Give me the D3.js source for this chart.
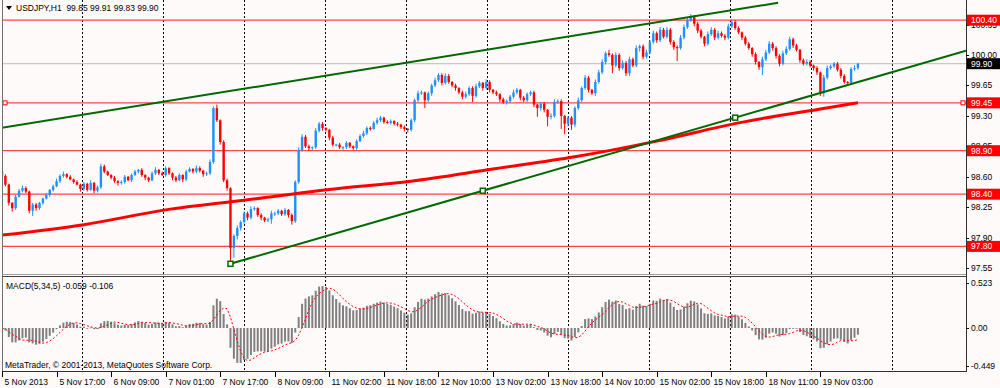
<!DOCTYPE html>
<html>
<head>
<meta charset="utf-8">
<script src="https://cdn.jsdelivr.net/npm/d3@7"></script>
<style>
  html, body { margin: 0; padding: 0; background: #fffafa; }
  svg { display: block; }
  text { font-family: "Liberation Sans", Arial, sans-serif; font-size: 8.5px; fill: #000; }
</style>
</head>
<body>
<div id="chart"></div>
<script>
// --- data ---
const symbolTitle = 'USDJPY,H1';
const lastBar = [99.85, 99.91, 99.83, 99.90];
const firstOpen = 98.66;
const closes = [
  98.61, 98.51, 98.30, 98.24, 98.37, 98.44, 98.47, 98.43, 98.21, 98.28, 98.24, 98.30,
  98.35, 98.39, 98.45, 98.49, 98.55, 98.61, 98.63, 98.60, 98.57, 98.54, 98.51, 98.46,
  98.52, 98.45, 98.53, 98.44, 98.48, 98.72, 98.66, 98.62, 98.59, 98.55, 98.53, 98.54,
  98.60, 98.56, 98.62, 98.66, 98.68, 98.62, 98.59, 98.56, 98.64, 98.68, 98.64, 98.62,
  98.70, 98.64, 98.59, 98.56, 98.62, 98.57, 98.66, 98.69, 98.66, 98.70, 98.67, 98.63,
  98.64, 98.77, 99.39, 99.25, 99.00, 98.56, 98.47, 97.78, 97.92, 98.01, 98.08, 98.18,
  98.13, 98.23, 98.24, 98.16, 98.13, 98.10, 98.11, 98.18, 98.18, 98.21, 98.17, 98.22,
  98.16, 98.09, 98.54, 98.91, 99.06, 98.95, 98.93, 98.94, 99.13, 99.21, 99.16, 99.14,
  99.05, 98.97, 98.97, 98.94, 98.94, 98.99, 98.95, 98.93, 99.01, 99.07, 99.10, 99.16,
  99.15, 99.22, 99.25, 99.28, 99.23, 99.22, 99.24, 99.21, 99.20, 99.17, 99.15, 99.14,
  99.25, 99.48, 99.56, 99.57, 99.48, 99.56, 99.65, 99.71, 99.77, 99.68, 99.76, 99.69,
  99.65, 99.62, 99.57, 99.52, 99.55, 99.62, 99.53, 99.64, 99.68, 99.62, 99.69, 99.60,
  99.57, 99.55, 99.49, 99.46, 99.47, 99.52, 99.57, 99.60, 99.51, 99.48, 99.55, 99.57,
  99.43, 99.39, 99.44, 99.37, 99.29, 99.30, 99.46, 99.47, 99.30, 99.21, 99.28, 99.20,
  99.39, 99.48, 99.62, 99.74, 99.60, 99.56, 99.69, 99.80, 99.92, 100.02, 100.00, 99.88,
  100.00, 99.85, 99.91, 99.79, 99.95, 99.88, 100.08, 100.10, 99.98, 100.03, 100.15, 100.25,
  100.17, 100.29, 100.21, 100.29, 100.15, 100.09, 100.08, 100.20, 100.32, 100.40, 100.44, 100.36,
  100.28, 100.21, 100.13, 100.24, 100.29, 100.20, 100.25, 100.22, 100.20, 100.33, 100.38, 100.31,
  100.26, 100.20, 100.13, 100.08, 100.01, 99.92, 99.86, 99.95, 100.03, 100.13, 100.08, 99.99,
  99.90, 100.02, 100.07, 100.18, 100.11, 100.06, 99.94, 99.90, 99.92, 99.88, 99.85, 99.80,
  99.56, 99.74, 99.85, 99.87, 99.90, 99.83, 99.76, 99.69, 99.68, 99.84, 99.85, 99.90
];
// wick lengths above / below the body, in pips
const upWicks = [
  3,2,1,1,2,2,3,2,1,2,2,1, 1,2,1,2,3,2,3,1,2,1,2,1, 2,1,3,1,2,3,2,1,1,2,1,2,
  2,1,2,2,1,2,1,1,2,3,1,2, 2,1,1,2,2,1,2,2,1,3,2,1, 2,3,2,4,1,2,2,1,2,3,2,2,
  2,3,2,1,2,1,2,3,2,2,1,2, 1,2,2,3,3,2,2,1,3,2,2,1, 1,2,1,2,1,2,1,1,2,2,3,2,
  2,2,3,2,1,2,2,1,2,1,2,1, 2,2,3,2,1,2,2,3,2,2,3,2, 1,2,1,2,3,2,2,3,2,1,3,2,
  1,2,1,2,2,2,3,2,1,2,2,2, 2,1,2,2,1,3,3,2,2,1,2,2, 2,3,2,3,2,1,3,3,3,2,4,2,
  3,2,3,2,3,2,3,2,2,3,2,3, 2,3,2,3,2,2,2,3,3,3,3,2, 2,2,1,3,3,2,3,2,2,3,3,2,
  2,1,2,2,1,2,1,3,3,3,2,2, 2,3,3,3,2,2,1,2,3,2,1,2, 1,3,3,2,2,2,2,2,1,2,3,1
];
const downWicks = [
  2,2,3,4,2,1,2,2,3,6,3,2, 2,1,2,2,1,2,2,2,1,2,1,3, 2,2,1,3,2,2,2,1,2,2,3,2,
  2,1,2,1,2,2,3,2,1,2,2,1, 2,2,3,2,1,3,2,1,2,2,2,3, 2,2,2,2,3,2,3,18,11,4,3,2,
  3,2,2,2,3,2,2,5,3,2,2,2, 3,4,2,2,2,2,3,2,2,2,3,2, 3,2,2,2,3,2,2,2,2,1,2,2,
  2,1,2,2,2,1,2,2,2,2,3,3, 2,2,2,2,9,2,3,2,2,3,2,2, 2,3,2,3,2,2,7,2,2,3,2,3,
  2,2,3,2,3,2,2,2,3,2,2,2, 3,10,3,3,11,3,2,2,15,12,3,6, 3,2,2,2,3,2,3,2,2,3,2,9,
  2,3,2,3,3,2,2,4,3,2,2,2, 3,2,2,2,3,3,15,2,2,2,2,3, 3,2,3,2,2,3,2,2,3,2,2,2,
  2,3,2,2,3,3,3,9,2,2,3,3, 3,2,2,2,3,2,3,2,2,2,3,3, 3,4,2,2,2,2,3,2,2,2,2,2
];
const timeLabels = ['5 Nov 2013', '5 Nov 17:00', '6 Nov 09:00', '7 Nov 01:00', '7 Nov 17:00',
  '8 Nov 09:00', '11 Nov 02:00', '11 Nov 18:00', '12 Nov 10:00', '13 Nov 02:00', '13 Nov 18:00',
  '14 Nov 10:00', '15 Nov 02:00', '15 Nov 18:00', '18 Nov 11:00', '19 Nov 03:00'];
const barsPerLabel = 16;
const priceTicks = [97.55, 97.90, 98.25, 98.60, 98.95, 99.30, 99.65, 100.00, 100.35];
const levels = [100.40, 99.45, 98.90, 98.40, 97.80];
const selectedLevel = 99.45;
const bidPrice = 99.90;
const maBars = [0, 24, 48, 72, 96, 120, 144, 168, 192, 216, 240, 251];
const maValues = [97.93, 98.05, 98.22, 98.335, 98.455, 98.55, 98.69, 98.83, 99.01, 99.22, 99.38, 99.45];
const upperTrend = [[-0.6, 99.16], [227.6, 100.60]];
const lowerTrend = [[67, 97.60], [215, 99.28]];
const lowerTrendMarks = [67, 141, 215];
const macdTicks = [0.523, 0.00, -0.449];
const macdTitle = 'MACD(5,34,5) -0.059 -0.106';
const copyright = 'MetaTrader, \u00a9 2001-2013, MetaQuotes Software Corp.';

class MetaTraderChart {
    constructor(containerId = 'chart') {
        this.width = 1000;
        this.height = 388;
        this.plotLeft = 2;
        this.plotRight = 966;
        this.mainBottom = 274;
        this.macdTop = 278;
        this.macdBottom = 371;
        this.barSpacing = 3.41;
        this.svg = d3.select('#' + containerId)
            .append('svg')
            .attr('width', this.width)
            .attr('height', this.height);
        this.buildBars();
        this.buildScales();
        this.render();
    }
    buildBars() {
        // an H1 bar opens where the previous one closed
        this.bars = closes.map((c, i) => {
            const o = i === 0 ? firstOpen : closes[i - 1];
            return {
                i, o, c,
                h: Math.max(o, c) + upWicks[i] / 100,
                l: Math.min(o, c) - downWicks[i] / 100
            };
        });
        const ema = (vals, p) => {
            const k = 2 / (p + 1);
            let prev = vals[0];
            return vals.map((v, i) => (prev = i === 0 ? v : prev + k * (v - prev)));
        };
        const fast = ema(closes, 5);
        const slow = ema(closes, 34);
        this.macd = fast.map((f, i) => f - slow[i]);
        this.signal = this.macd.map((_, i) => d3.mean(this.macd.slice(Math.max(0, i - 4), i + 1)));
    }
    buildScales() {
        const n = closes.length;
        this.x = d3.scaleLinear().domain([0, n - 1])
            .range([this.plotLeft, this.plotLeft + this.barSpacing * (n - 1)]);
        // price axis: 100.00 sits at y=55, 87 px per yen
        this.y = d3.scaleLinear().domain([100 - 219 / 87, 100 + 55 / 87]).range([this.mainBottom, 0]);
        this.ym = d3.scaleLinear().domain([-0.449, 0.523]).range([367.5, 282]);
    }
    render() {
        const svg = this.svg;
        svg.append('rect').attr('width', this.width).attr('height', this.height).attr('fill', '#fffafa');
        const defs = svg.append('defs');
        defs.append('clipPath').attr('id', 'clipMain').append('rect')
            .attr('x', this.plotLeft).attr('y', 0)
            .attr('width', this.plotRight - this.plotLeft).attr('height', this.mainBottom);
        defs.append('clipPath').attr('id', 'clipMacd').append('rect')
            .attr('x', this.plotLeft).attr('y', this.macdTop)
            .attr('width', this.plotRight - this.plotLeft).attr('height', this.macdBottom - this.macdTop);

        this.drawGrid();
        this.drawMain();
        this.drawMacd();
        this.drawFrame();
        this.drawPriceAxis();
        this.drawTimeAxis();
        this.drawTexts();
    }
    drawGrid() {
        const gridBars = d3.range(23.4, 280, 23.76).filter(b => this.x(b) < this.plotRight - 2);
        this.svg.append('g')
            .attr('stroke', '#000').attr('stroke-width', 1).attr('stroke-dasharray', '2,2')
            .selectAll('line').data(gridBars).join('line')
            .attr('x1', d => Math.round(this.x(d)) + 0.5).attr('x2', d => Math.round(this.x(d)) + 0.5)
            .attr('y1', 0).attr('y2', this.macdBottom);
    }
    drawMain() {
        const g = this.svg.append('g').attr('clip-path', 'url(#clipMain)');
        // bid line and horizontal levels
        g.append('line')
            .attr('x1', this.plotLeft).attr('x2', this.plotRight)
            .attr('y1', this.y(bidPrice)).attr('y2', this.y(bidPrice))
            .attr('stroke', '#c8c8c8').attr('stroke-width', 1.2);
        g.selectAll('.level').data(levels).join('line')
            .attr('class', 'level')
            .attr('x1', this.plotLeft).attr('x2', this.plotRight)
            .attr('y1', d => this.y(d)).attr('y2', d => this.y(d))
            .attr('stroke', '#ff4545').attr('stroke-width', 1.2);
        g.selectAll('.lvlmark').data([this.plotLeft + 3, this.plotRight - 3]).join('rect')
            .attr('class', 'lvlmark')
            .attr('x', d => d - 2).attr('y', this.y(selectedLevel) - 2)
            .attr('width', 4).attr('height', 4)
            .attr('fill', '#fffafa').attr('stroke', '#ff0000').attr('stroke-width', 1);

        // candles
        const bull = '#1e90ff', bear = '#ff0000';
        const candle = g.append('g').selectAll('g').data(this.bars).join('g');
        candle.append('line')
            .attr('x1', d => this.x(d.i)).attr('x2', d => this.x(d.i))
            .attr('y1', d => this.y(d.h)).attr('y2', d => this.y(d.l))
            .attr('stroke', d => d.c >= d.o ? bull : bear).attr('stroke-width', 1);
        candle.append('rect')
            .attr('x', d => this.x(d.i) - 1.2).attr('width', 2.4)
            .attr('y', d => this.y(Math.max(d.o, d.c)))
            .attr('height', d => Math.max(1, this.y(Math.min(d.o, d.c)) - this.y(Math.max(d.o, d.c))))
            .attr('fill', d => d.c >= d.o ? bull : bear);

        // moving average
        const ma = maBars.map((b, k) => [b, maValues[k]]);
        g.append('path')
            .attr('d', d3.line().x(d => this.x(d[0])).y(d => this.y(d[1])).curve(d3.curveMonotoneX)(ma))
            .attr('fill', 'none').attr('stroke', '#ff0000').attr('stroke-width', 3);

        // trend lines
        const green = '#006800';
        const lineAt = (t, b) => t[0][1] + (t[1][1] - t[0][1]) * (b - t[0][0]) / (t[1][0] - t[0][0]);
        g.append('line')
            .attr('x1', this.x(upperTrend[0][0])).attr('y1', this.y(upperTrend[0][1]))
            .attr('x2', this.x(upperTrend[1][0])).attr('y2', this.y(upperTrend[1][1]))
            .attr('stroke', green).attr('stroke-width', 2);
        const endBar = this.x.invert(this.plotRight);
        g.append('line')
            .attr('x1', this.x(lowerTrend[0][0])).attr('y1', this.y(lowerTrend[0][1]))
            .attr('x2', this.x(endBar)).attr('y2', this.y(lineAt(lowerTrend, endBar)))
            .attr('stroke', green).attr('stroke-width', 2);
        g.selectAll('.tmark').data(lowerTrendMarks).join('rect')
            .attr('class', 'tmark')
            .attr('x', d => this.x(d) - 2.5).attr('y', d => this.y(lineAt(lowerTrend, d)) - 2.5)
            .attr('width', 5).attr('height', 5)
            .attr('fill', '#fffafa').attr('stroke', green).attr('stroke-width', 1.5);
    }
    drawMacd() {
        const g = this.svg.append('g').attr('clip-path', 'url(#clipMacd)');
        const zero = this.ym(0);
        g.selectAll('rect').data(this.macd).join('rect')
            .attr('x', (d, i) => this.x(i) - 1).attr('width', 2)
            .attr('y', d => Math.min(zero, this.ym(d)))
            .attr('height', d => Math.max(0.8, Math.abs(this.ym(d) - zero)))
            .attr('fill', '#808080');
        g.append('path')
            .attr('d', d3.line().x((d, i) => this.x(i)).y(d => this.ym(d))(this.signal))
            .attr('fill', 'none').attr('stroke', '#ff0000').attr('stroke-width', 1)
            .attr('stroke-dasharray', '2,2');
    }
    drawFrame() {
        const f = this.svg.append('g').attr('fill', 'none');
        f.append('line').attr('x1', 2.5).attr('x2', 2.5).attr('y1', 0).attr('y2', this.macdBottom)
            .attr('stroke', '#707070');
        f.append('line').attr('x1', this.plotRight + 0.5).attr('x2', this.plotRight + 0.5)
            .attr('y1', 0).attr('y2', this.macdBottom + 1).attr('stroke', '#303030');
        f.append('line').attr('x1', 2).attr('x2', this.plotRight).attr('y1', 274.5).attr('y2', 274.5)
            .attr('stroke', '#a0a0a0');
        f.append('line').attr('x1', 2).attr('x2', this.plotRight).attr('y1', 276.5).attr('y2', 276.5)
            .attr('stroke', '#404040');
        f.append('line').attr('x1', 2).attr('x2', this.plotRight).attr('y1', this.macdBottom + 0.5)
            .attr('y2', this.macdBottom + 0.5).attr('stroke', '#303030');
    }
    drawPriceAxis() {
        const ax = this.svg.append('g');
        const tx = this.plotRight + 5;
        ax.selectAll('.tick').data(priceTicks).join('g').attr('class', 'tick')
            .each((d, i, nodes) => {
                const t = d3.select(nodes[i]);
                t.append('line').attr('x1', this.plotRight).attr('x2', this.plotRight + 3)
                    .attr('y1', Math.round(this.y(d)) + 0.5).attr('y2', Math.round(this.y(d)) + 0.5)
                    .attr('stroke', '#000');
                t.append('text').attr('x', tx).attr('y', this.y(d)).attr('dy', '0.35em')
                    .text(d.toFixed(2));
            });
        const box = (v, color) => {
            const yy = this.y(v);
            ax.append('rect').attr('x', this.plotRight + 1).attr('y', yy - 5.5)
                .attr('width', 33).attr('height', 11).attr('fill', color);
            ax.append('text').attr('x', tx).attr('y', yy).attr('dy', '0.35em')
                .style('fill', '#fff').text(v.toFixed(2));
        };
        levels.forEach(v => box(v, '#ff0000'));
        box(bidPrice, '#000');
        macdTicks.forEach((v, k) => {
            const yy = k === 0 ? 283 : k === 2 ? 366 : this.ym(v);
            ax.append('line').attr('x1', this.plotRight).attr('x2', this.plotRight + 3)
                .attr('y1', Math.round(yy) + 0.5).attr('y2', Math.round(yy) + 0.5).attr('stroke', '#000');
            ax.append('text').attr('x', tx).attr('y', yy).attr('dy', '0.35em')
                .text(v === 0 ? '0.00' : String(v));
        });
    }
    drawTimeAxis() {
        const ax = this.svg.append('g');
        timeLabels.forEach((label, k) => {
            const xx = Math.round(this.x(k * barsPerLabel)) + 0.5;
            ax.append('line').attr('x1', xx).attr('x2', xx)
                .attr('y1', this.macdBottom + 1).attr('y2', this.macdBottom + 6).attr('stroke', '#000');
            ax.append('text').attr('x', xx + 2).attr('y', 385).text(label);
        });
    }
    drawTexts() {
        const svg = this.svg;
        svg.append('path').attr('d', 'M6,6 L12,6 L9,10 Z').attr('fill', '#000');
        svg.append('text').attr('x', 16).attr('y', 11)
            .text(`${symbolTitle}  ${lastBar.map(v => v.toFixed(2)).join(' ')}`)
            .attr('xml:space', 'preserve').style('white-space', 'pre');
        svg.append('text').attr('x', 6).attr('y', 289).text(macdTitle);
        svg.append('text').attr('x', 5).attr('y', 368).text(copyright);
    }
}
const chart = new MetaTraderChart();
</script>
</body>
</html>
